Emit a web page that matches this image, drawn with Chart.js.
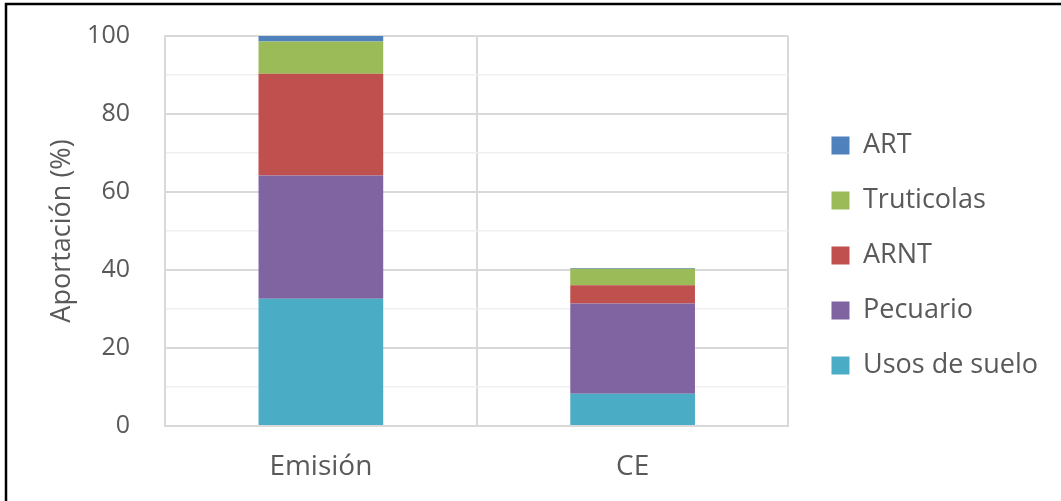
<!DOCTYPE html>
<html>
<head>
<meta charset="utf-8">
<script src="https://cdn.jsdelivr.net/npm/chart.js@4/dist/chart.umd.min.js"></script>
<style>
  html, body { margin: 0; padding: 0; background: #fff; }
  #wrap { width: 1061px; height: 501px; position: relative; }
</style>
</head>
<body>
<div id="wrap"><canvas id="grafico" width="1061" height="501"></canvas></div>
<script>
// Datos (porcentaje de aportación)
const categorias = ['Emisión', 'CE'];
const usosSuelo = [32.6, 8.3];
const pecuario = [31.6, 23.1];
const arnt = [26.1, 4.7];
const truticolas = [8.3, 4.2];
const art = [1.4, 0.2];
const ticksY = [0, 20, 40, 60, 80, 100];

const colorTexto = '#595959';
const fuente = "'Open Sans', 'Noto Sans', sans-serif";

// Marco negro (solo arriba e izquierda, como en la imagen)
const marco = {
  id: 'marco',
  afterLayout(chart) {
    // mover la leyenda: un poco a la derecha y hacia arriba
    chart.legend.left += 15;
    chart.legend.right += 15;
    chart.legend.top -= 13;
    chart.legend.bottom -= 13;
  },
  afterDraw(chart) {
    const ctx = chart.ctx;
    ctx.save();
    ctx.strokeStyle = '#000';
    ctx.lineWidth = 2.5;
    ctx.beginPath();
    ctx.moveTo(6, 501);
    ctx.lineTo(6, 4);
    ctx.lineTo(1061, 4);
    ctx.stroke();
    ctx.restore();
  }
};

const ctx = document.getElementById('grafico').getContext('2d');
const grafico = new Chart(ctx, {
  type: 'bar',
  data: {
    labels: categorias,
    datasets: [
      { label: 'Usos de suelo', data: usosSuelo, backgroundColor: '#4bacc6' },
      { label: 'Pecuario', data: pecuario, backgroundColor: '#8064a2' },
      { label: 'ARNT', data: arnt, backgroundColor: '#c0504d' },
      { label: 'Truticolas', data: truticolas, backgroundColor: '#9bbb59' },
      { label: 'ART', data: art, backgroundColor: '#4f81bd' }
    ]
  },
  options: {
    responsive: false,
    animation: false,
    devicePixelRatio: 1,
    layout: { padding: { top: 36, right: 28, bottom: 0, left: 38 } },
    datasets: { bar: { categoryPercentage: 1, barPercentage: 0.4, borderWidth: 0 } },
    plugins: {
      legend: {
        position: 'right',
        reverse: true,
        labels: {
          color: colorTexto,
          font: { family: fuente, size: 27 },
          boxWidth: 18,
          boxHeight: 18,
          padding: 28
        }
      },
      tooltip: { enabled: false }
    },
    scales: {
      x: {
        stacked: true,
        afterFit(scale) { scale.height = 75; },
        grid: { color: '#d9d9d9', lineWidth: 2, drawTicks: false, offset: true },
        border: { color: '#d9d9d9', width: 2 },
        ticks: { color: colorTexto, font: { family: fuente, size: 28 }, padding: 24 }
      },
      y: {
        stacked: true,
        min: 0,
        max: 100,
        afterFit(scale) {
          scale.width = 127;
          scale.paddingTop = 0;
          scale.paddingBottom = 0;
        },
        grid: {
          drawTicks: false,
          color: c => (c.tick.value % 20 === 0 ? '#d9d9d9' : '#efefef'),
          lineWidth: c => (c.tick.value % 20 === 0 ? 2 : 1.5)
        },
        border: { color: '#d9d9d9', width: 2 },
        ticks: {
          stepSize: 10,
          color: colorTexto,
          font: { family: fuente, size: 25 },
          padding: 35,
          callback: v => (ticksY.includes(v) ? v : '')
        },
        title: {
          display: true,
          text: 'Aportación (%)',
          color: colorTexto,
          font: { family: fuente, size: 27 },
          padding: { top: 8, bottom: 0 }
        }
      }
    }
  },
  plugins: [marco]
});
</script>
</body>
</html>
